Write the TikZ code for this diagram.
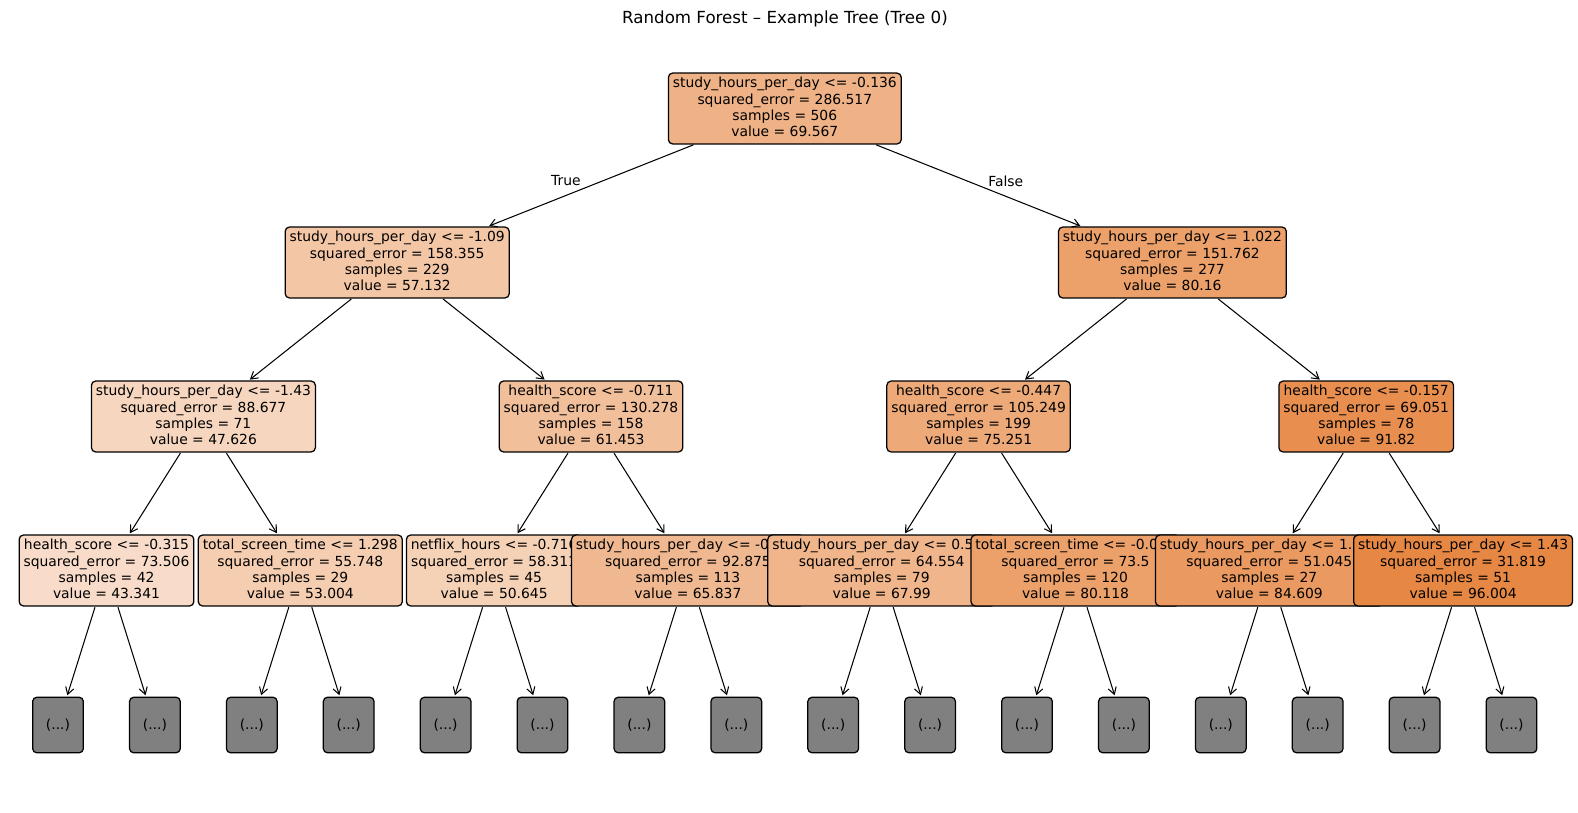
\documentclass[tikz,border=0pt]{standalone}
\usepackage{fontspec}
\setmainfont{DejaVu Sans}
\usetikzlibrary{arrows.meta}
\definecolor{skor}{RGB}{229,129,57}
\definecolor{leafgray}{RGB}{128,128,128}
\newcommand{\dstr}{\rule[-2.3pt]{0pt}{2.3pt}}
\tikzset{
  tnode/.style={draw=black, line width=0.9pt, rounded corners=3pt, align=center,
    inner xsep=3.2pt, inner ysep=3pt, minimum height=51pt,
    font=\fontsize{10}{11.7}\selectfont},
  leafbox/.style={draw=black, line width=0.9pt, rounded corners=3pt, fill=leafgray,
    minimum width=36.5pt, minimum height=40pt, inner sep=0pt,
    font=\fontsize{10}{11.7}\selectfont},
  edge/.style={-{Straight Barb[length=5pt,width=6pt]}, line width=0.75pt, shorten >=1pt, shorten <=0.5pt},
  lbl/.style={font=\fontsize{10}{11.7}\selectfont, inner sep=0pt}
}
\begin{document}
\begin{tikzpicture}[x=0.72pt,y=-0.72pt]
\useasboundingbox (0,0) rectangle (1578,812);
\node[font=\fontsize{12}{14}\selectfont] (title) at (785,19) {Random Forest – Example Tree (Tree 0)};

% root
\node[tnode, fill=skor!61!white] (r) at (784.8,108.5)
  {study\_hours\_per\_day <= -0.136\\squared\_error = 286.517\\samples = 506\\value = 69.567\dstr};
% level 1
\node[tnode, fill=skor!45!white] (a) at (397.2,262.5)
  {study\_hours\_per\_day <= -1.09\\squared\_error = 158.355\\samples = 229\\value = 57.132\dstr};
\node[tnode, fill=skor!74.6!white] (b) at (1172.4,262.5)
  {study\_hours\_per\_day <= 1.022\\squared\_error = 151.762\\samples = 277\\value = 80.16\dstr};
% level 2
\node[tnode, fill=skor!32.9!white] (aa) at (203.4,416.5)
  {study\_hours\_per\_day <= -1.43\\squared\_error = 88.677\\samples = 71\\value = 47.626\dstr};
\node[tnode, fill=skor!50.6!white] (ab) at (591,416.5)
  {health\_score <= -0.711\\squared\_error = 130.278\\samples = 158\\value = 61.453\dstr};
\node[tnode, fill=skor!68.3!white] (ba) at (978.6,416.5)
  {health\_score <= -0.447\\squared\_error = 105.249\\samples = 199\\value = 75.251\dstr};
\node[tnode, fill=skor!89.5!white] (bb) at (1366.2,416.5)
  {health\_score <= -0.157\\squared\_error = 69.051\\samples = 78\\value = 91.82\dstr};
% level 3
\node[tnode, fill=skor!27.4!white] (c0) at (106.5,570.5)
  {health\_score <= -0.315\\squared\_error = 73.506\\samples = 42\\value = 43.341\dstr};
\node[tnode, fill=skor!39.7!white] (c1) at (300.3,570.5)
  {total\_screen\_time <= 1.298\\squared\_error = 55.748\\samples = 29\\value = 53.004\dstr};
\node[tnode, fill=skor!36.7!white] (c2) at (494.1,570.5)
  {netflix\_hours <= -0.716\\squared\_error = 58.311\\samples = 45\\value = 50.645\dstr};
\node[tnode, fill=skor!56.2!white] (c3) at (687.9,570.5)
  {study\_hours\_per\_day <= -0.467\\squared\_error = 92.875\\samples = 113\\value = 65.837\dstr};
\node[tnode, fill=skor!59!white] (c4) at (881.7,570.5)
  {study\_hours\_per\_day <= 0.544\\squared\_error = 64.554\\samples = 79\\value = 67.99\dstr};
\node[tnode, fill=skor!74.5!white] (c5) at (1075.5,570.5)
  {total\_screen\_time <= -0.023\\squared\_error = 73.5\\samples = 120\\value = 80.118\dstr};
\node[tnode, fill=skor!80.3!white] (c6) at (1269.3,570.5)
  {study\_hours\_per\_day <= 1.226\\squared\_error = 51.045\\samples = 27\\value = 84.609\dstr};
\node[tnode, fill=skor!94.9!white] (c7) at (1463.1,570.5)
  {study\_hours\_per\_day <= 1.43\\squared\_error = 31.819\\samples = 51\\value = 96.004\dstr};
% leaves
\foreach \k in {0,...,15} {
  \node[leafbox] (l\k) at ({58+96.9*\k},725) {(...)};
}
% True / False labels
\node[lbl, anchor=east] (tl) at (581,181) {True};
\node[lbl, anchor=west] (fl) at (988,181) {False};
% edges
\draw[edge] (r) -- (a);
\draw[edge] (r) -- (b);
\draw[edge] (a) -- (aa);
\draw[edge] (a) -- (ab);
\draw[edge] (b) -- (ba);
\draw[edge] (b) -- (bb);
\draw[edge] (aa) -- (c0);
\draw[edge] (aa) -- (c1);
\draw[edge] (ab) -- (c2);
\draw[edge] (ab) -- (c3);
\draw[edge] (ba) -- (c4);
\draw[edge] (ba) -- (c5);
\draw[edge] (bb) -- (c6);
\draw[edge] (bb) -- (c7);
\foreach \j in {0,...,7} {
  \pgfmathtruncatemacro{\la}{2*\j}
  \pgfmathtruncatemacro{\lb}{2*\j+1}
  \draw[edge] (c\j) -- (l\la);
  \draw[edge] (c\j) -- (l\lb);
}
\end{tikzpicture}
\end{document}
